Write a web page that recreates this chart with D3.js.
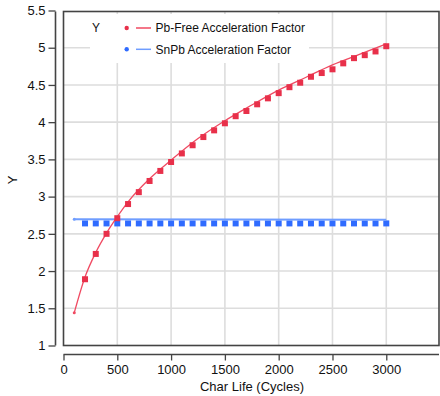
<!DOCTYPE html>
<html><head><meta charset="utf-8">
<script src="https://cdn.jsdelivr.net/npm/d3@7"></script>
<style>body{margin:0;background:#fff}svg{display:block;font-family:"Liberation Sans",Arial,sans-serif}</style>
</head><body><svg id="c" width="440" height="396"></svg>
<script>
// Data
const pointCycles = [200,300,400,500,600,700,800,900,1000,1100,1200,1300,1400,1500,1600,1700,1800,1900,2000,2100,2200,2300,2400,2500,2600,2700,2800,2900,3000];
const pbFreePoints = [1.89,2.23,2.50,2.71,2.90,3.06,3.21,3.345,3.465,3.58,3.69,3.80,3.89,3.985,4.08,4.15,4.24,4.32,4.39,4.47,4.53,4.61,4.66,4.71,4.79,4.86,4.90,4.95,5.02];
const snpbPoints = [2.64,2.64,2.64,2.64,2.64,2.64,2.64,2.64,2.64,2.64,2.64,2.64,2.64,2.64,2.64,2.64,2.64,2.64,2.64,2.64,2.64,2.64,2.64,2.64,2.64,2.64,2.64,2.64,2.64];
const pbFreeCurveX = [100,200,300,400,500,600,800,1000,1250,1500,1750,2000,2250,2500,2750,3000];
const pbFreeCurveY = [1.44,1.92,2.25,2.51,2.73,2.93,3.24,3.49,3.78,4.02,4.23,4.43,4.60,4.77,4.91,5.05];
const snpbCurveX = [100,3000];
const snpbCurveY = [2.695,2.69];
const xTicks = [0,500,1000,1500,2000,2500,3000];
const yTicks = [1,1.5,2,2.5,3,3.5,4,4.5,5,5.5];
const legendItems = ["Pb-Free Acceleration Factor","SnPb Acceleration Factor"];
const colors = {pb:"#e8304a", pbLine:"#f04a62", sn:"#2f6bff", snLine:"#6f9dff"};

const svg = d3.select("#c");
const L=63.5, R=439, T=11.5, B=345.5;
const x = d3.scaleLinear().domain([0,3490]).range([L,R]);
const y = d3.scaleLinear().domain([1,5.5]).range([B,10.5]);

// gridlines
const g = svg.append("g");
g.selectAll(".vg").data(xTicks.filter(d=>d>0)).enter().append("line")
 .attr("x1",d=>x(d)).attr("x2",d=>x(d)).attr("y1",T).attr("y2",B)
 .attr("stroke","#dddddd").attr("stroke-width",1.6);
g.selectAll(".hg").data(yTicks.filter(d=>d>1&&d<5.5)).enter().append("line")
 .attr("y1",d=>y(d)).attr("y2",d=>y(d)).attr("x1",L).attr("x2",R)
 .attr("stroke","#dddddd").attr("stroke-width",1.6);

// legend background
svg.append("rect").attr("x",90).attr("y",14).attr("width",219).attr("height",49).attr("fill","#fff");

// series
const line = d3.line().x(d=>x(d[0])).y(d=>y(d[1])).curve(d3.curveMonotoneX);
const sq = 6;
svg.append("g").selectAll("rect").data(pointCycles.map((c,i)=>[c,snpbPoints[i]])).enter().append("rect")
 .attr("x",d=>x(d[0])-sq/2).attr("y",d=>y(d[1])-sq/2).attr("width",sq).attr("height",sq).attr("fill",colors.sn);
svg.append("path").datum(snpbCurveX.map((c,i)=>[c,snpbCurveY[i]])).attr("d",line)
 .attr("fill","none").attr("stroke",colors.snLine).attr("stroke-width",2);
svg.append("circle").attr("cx",x(snpbCurveX[0])).attr("cy",y(snpbCurveY[0])).attr("r",1.5).attr("fill",colors.snLine);
svg.append("path").datum(pbFreeCurveX.map((c,i)=>[c,pbFreeCurveY[i]])).attr("d",line)
 .attr("fill","none").attr("stroke",colors.pbLine).attr("stroke-width",1.3);
svg.append("circle").attr("cx",x(pbFreeCurveX[0])).attr("cy",y(pbFreeCurveY[0])).attr("r",1.5).attr("fill",colors.pbLine);
svg.append("g").selectAll("rect").data(pointCycles.map((c,i)=>[c,pbFreePoints[i]])).enter().append("rect")
 .attr("x",d=>x(d[0])-sq/2).attr("y",d=>y(d[1])-sq/2).attr("width",sq).attr("height",sq).attr("fill",colors.pb);

// frame
svg.append("rect").attr("x",L).attr("y",T).attr("width",R-L).attr("height",B-T)
 .attr("fill","none").attr("stroke","#444").attr("stroke-width",1.6);

// y axis
const ya = svg.append("g").attr("transform","translate(55.5,0)")
 .call(d3.axisLeft(y).tickValues(yTicks).tickFormat(d=>d).tickSize(7).tickPadding(3));
ya.select(".domain").remove();
ya.append("line").attr("x1",0).attr("x2",0).attr("y1",T).attr("y2",B).attr("stroke","#444").attr("stroke-width",1.6);
ya.selectAll(".tick line").attr("stroke","#444").attr("stroke-width",1.3);
ya.selectAll("text").attr("font-size",13).attr("fill","#111").attr("font-family","Liberation Sans, Arial, sans-serif");

// x axis
const xa = svg.append("g").attr("transform","translate(0,354.5)")
 .call(d3.axisBottom(x).tickValues(xTicks).tickFormat(d3.format("d")).tickSize(6).tickPadding(4));
xa.select(".domain").remove();
xa.append("line").attr("x1",L).attr("x2",R).attr("y1",0).attr("y2",0).attr("stroke","#444").attr("stroke-width",1.6);
xa.selectAll(".tick line").attr("stroke","#444").attr("stroke-width",1.3);
xa.selectAll("text").attr("font-size",13).attr("fill","#111").attr("font-family","Liberation Sans, Arial, sans-serif");

// titles
svg.append("text").attr("x",252).attr("y",391).attr("text-anchor","middle").attr("font-size",13).attr("fill","#111").text("Char Life (Cycles)");
svg.append("text").attr("transform","translate(17,180) rotate(-90)").attr("text-anchor","middle").attr("font-size",13).attr("fill","#111").text("Y");

// legend
const lg = svg.append("g").attr("font-size",12).attr("fill","#111");
lg.append("text").attr("x",92).attr("y",32).text("Y");
const lc = [[colors.pb,colors.pbLine],[colors.sn,colors.snLine]];
legendItems.forEach((t,i)=>{
  const yy = 28 + i*21.3;
  lg.append("circle").attr("cx",126.7).attr("cy",yy).attr("r",2.2).attr("fill",lc[i][0]);
  lg.append("line").attr("x1",136).attr("x2",151).attr("y1",yy).attr("y2",yy).attr("stroke",lc[i][1]).attr("stroke-width",1.5);
  lg.append("text").attr("x",155.5).attr("y",yy+4.3).text(t);
});
</script></body></html>
